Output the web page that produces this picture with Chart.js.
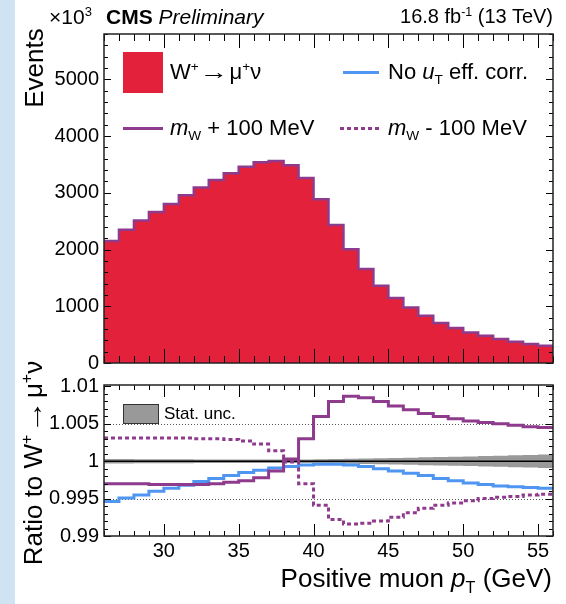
<!DOCTYPE html>
<html><head><meta charset="utf-8">
<script src="https://cdn.jsdelivr.net/npm/chart.js@4/dist/chart.umd.min.js"></script>
<style>
html,body{margin:0;padding:0;background:#fff;}
body{width:566px;height:604px;position:relative;overflow:hidden;font-family:"Liberation Sans",Arial,sans-serif;color:#000;}
#strip{position:absolute;left:0;top:0;width:15px;height:604px;background:#cfe3f3;}
.t{position:absolute;white-space:nowrap;line-height:1;}
.sup{font-size:0.62em;position:relative;top:-0.6em;}
.sub{font-size:0.62em;position:relative;top:0.35em;}
.arr{display:inline-block;transform:scaleX(1.3);margin:0 0.2em;}
canvas{position:absolute;left:0;}
.mk{position:absolute;}
</style></head><body>
<div id="strip"></div>
<canvas id="top" width="566" height="390" style="top:0"></canvas>
<canvas id="bot" width="566" height="244" style="top:360px"></canvas>

<div class="t" style="left:49px;top:6px;font-size:21px;">×10<span class="sup">3</span></div>
<div class="t" style="left:106px;top:6px;font-size:21px;"><b>CMS</b> <i>Preliminary</i></div>
<div class="t" style="right:13px;top:6px;font-size:20px;">16.8 fb<span class="sup">-1</span> (13 TeV)</div>

<div class="mk" style="left:123px;top:52px;width:40px;height:41px;background:#e3213a;"></div>
<div class="t" style="left:170px;top:61px;font-size:22px;">W<span class="sup">+</span><span class="arr">→</span>μ<span class="sup">+</span>ν</div>
<div class="mk" style="left:343px;top:71px;width:36px;height:3px;background:#4f95f2;"></div>
<div class="t" style="left:388px;top:61px;font-size:22px;">No <i>u</i><span class="sub">T</span> eff. corr.</div>
<div class="mk" style="left:123px;top:127px;width:40px;height:3px;background:#8e3b8e;"></div>
<div class="t" style="left:170px;top:117px;font-size:22px;"><i>m</i><span class="sub">W</span> + 100 MeV</div>
<div class="mk" style="left:340px;top:127px;width:39px;height:3px;background:repeating-linear-gradient(90deg,#8e3b8e 0 4px,transparent 4px 7px);"></div>
<div class="t" style="left:388px;top:117px;font-size:22px;"><i>m</i><span class="sub">W</span> - 100 MeV</div>

<div class="mk" style="left:123px;top:404px;width:34px;height:18px;background:#999;border:1px solid #333;"></div>
<div class="t" style="left:164px;top:405px;font-size:17px;">Stat. unc.</div>

<div class="t" style="left:34px;top:68px;font-size:26px;transform:translate(-50%,-50%) rotate(-90deg);">Events</div>
<div class="t" style="left:33px;top:463px;font-size:26px;transform:translate(-50%,-50%) rotate(-90deg);">Ratio to W<span class="sup">+</span><span class="arr">→</span>μ<span class="sup">+</span>ν</div>
<div class="t" style="right:14px;top:565px;font-size:26px;">Positive muon <i>p</i><span class="sub">T</span> (GeV)</div>

<script>
// ---------------- data ----------------
const binEdges = [26,27,28,29,30,31,32,33,34,35,36,37,38,39,40,41,42,43,44,45,46,47,48,49,50,51,52,53,54,55,56];
// W+ -> mu+ nu events per bin (x10^3)
const nominal = [2150,2347,2510,2663,2805,2957,3092,3227,3345,3461,3539,3562,3486,3262,2887,2435,2007,1655,1361,1144,979,833,704,616,539,481,423,375,334,305];
// ratios to nominal
const ratioNoUT = [0.9946,0.9951,0.9955,0.9960,0.9964,0.9968,0.9973,0.9977,0.9981,0.9985,0.9988,0.9991,0.9993,0.9995,0.9996,0.9996,0.9995,0.9993,0.9990,0.9987,0.9984,0.9981,0.9977,0.9974,0.9971,0.9969,0.9967,0.9966,0.9965,0.9964];
const ratioMwUp = [0.9970,0.9970,0.9970,0.9969,0.9969,0.9969,0.9969,0.9970,0.9972,0.9974,0.9978,0.9987,1.0003,1.0030,1.0060,1.0080,1.0087,1.0085,1.0080,1.0074,1.0069,1.0064,1.0060,1.0057,1.0054,1.0052,1.0050,1.0048,1.0046,1.0045];
const ratioMwDown = [1.0031,1.0031,1.0031,1.0031,1.0031,1.0031,1.0030,1.0030,1.0029,1.0027,1.0023,1.0014,0.9999,0.9970,0.9941,0.9922,0.9916,0.9917,0.9920,0.9925,0.9931,0.9937,0.9941,0.9944,0.9947,0.9950,0.9952,0.9953,0.9955,0.9956];
// relative statistical uncertainty per bin
const statUnc = [0.00030,0.00029,0.00028,0.00027,0.00026,0.00026,0.00025,0.00025,0.00024,0.00024,0.00024,0.00024,0.00024,0.00025,0.00027,0.00029,0.00032,0.00036,0.00040,0.00044,0.00048,0.00052,0.00057,0.00061,0.00065,0.00069,0.00074,0.00079,0.00084,0.00090];
// tick labels
const topYTicks = [0,1000,2000,3000,4000,5000];
const topYLabels = ['0','1000','2000','3000','4000','5000'];
const ratioYTicks = [0.99,0.995,1,1.005,1.01];
const ratioYLabels = ['0.99','0.995','1','1.005','1.01'];
const xTicks = [30,35,40,45,50,55];
const xLabels = ['30','35','40','45','50','55'];

// ---------------- helpers ----------------
const RED = '#e3213a', PURPLE = '#8e3b8e', BLUE = '#4f95f2', GREY = '#999999';
const FONT = 'Liberation Sans';
function steps(vals){ return binEdges.map((e,i)=>({x:e, y:vals[Math.min(i, vals.length-1)]})); }

const frameTicks = {
  id:'frameTicks',
  beforeDatasetsDraw(chart, args, o){
    if(!o.grid) return;
    const {ctx, chartArea:a, scales:{y}} = chart;
    ctx.save();
    ctx.strokeStyle='#555'; ctx.lineWidth=1; ctx.setLineDash([1,2]);
    o.grid.forEach(v=>{ const py=Math.round(y.getPixelForValue(v))+0.5; ctx.beginPath(); ctx.moveTo(a.left,py); ctx.lineTo(a.right,py); ctx.stroke(); });
    ctx.restore();
  },
  afterDatasetsDraw(chart, args, o){
    const {ctx, chartArea:a, scales:{x,y}} = chart;
    ctx.save();
    ctx.strokeStyle='#000'; ctx.lineWidth=1;
    const ln=(x1,y1,x2,y2)=>{ctx.beginPath();ctx.moveTo(x1,y1);ctx.lineTo(x2,y2);ctx.stroke();};
    for(let v=26; v<=56; v++){
      const px=Math.round(x.getPixelForValue(v))+0.5;
      const L = v%5===0 ? o.xMajor : o.xMinor;
      ln(px,a.bottom,px,a.bottom-L); ln(px,a.top,px,a.top+L);
    }
    for(let i=0;i<=o.yN;i++){
      const v=o.yMin+i*o.yStep;
      if(v>o.yMax+1e-9) break;
      const py=Math.round(y.getPixelForValue(v))+0.5;
      const L = (i%o.yEvery===0) ? o.yMajor : o.yMinor;
      ln(a.left,py,a.left+L,py); ln(a.right,py,a.right-L,py);
    }
    ctx.lineWidth=1.5; ctx.strokeStyle='#222';
    ctx.strokeRect(a.left,a.top,a.right-a.left,a.bottom-a.top);
    ctx.restore();
  }
};

const tickFont = {family:FONT, size:20};

new Chart(document.getElementById('top'), {
  type:'line',
  data:{datasets:[{
    data:steps(nominal), stepped:true, fill:'origin', backgroundColor:RED,
    borderColor:PURPLE, borderWidth:2.5, pointRadius:0
  }]},
  options:{
    responsive:false, animation:false, devicePixelRatio:1,
    layout:{padding:{left:0,right:13,top:34,bottom:27}},
    plugins:{legend:{display:false}, tooltip:{enabled:false},
      frameTicks:{xMajor:14,xMinor:7,yMin:0,yStep:200,yN:29,yMax:5800,yEvery:5,yMajor:7,yMinor:4}},
    scales:{
      x:{type:'linear', min:26, max:56, display:false},
      y:{type:'linear', min:0, max:5800,
        afterFit(s){s.width=104;},
        afterBuildTicks(s){s.ticks=topYTicks.map(v=>({value:v}));},
        ticks:{font:tickFont, color:'#000', padding:5, callback:(v,i)=>topYLabels[i]},
        grid:{display:false, drawTicks:false}, border:{display:false}}
    }
  },
  plugins:[frameTicks]
});

new Chart(document.getElementById('bot'), {
  type:'line',
  data:{datasets:[
    {data:steps(statUnc.map(u=>1+u)), stepped:true, borderWidth:0, pointRadius:0, fill:false, order:10, borderColor:'rgba(0,0,0,0)'},
    {data:steps(statUnc.map(u=>1-u)), stepped:true, borderWidth:0, pointRadius:0, fill:'-1', backgroundColor:GREY, order:9, borderColor:'rgba(0,0,0,0)'},
    {data:[{x:26,y:1},{x:56,y:1}], borderColor:'#000', borderWidth:1.5, pointRadius:0, order:5},
    {data:steps(ratioNoUT), stepped:true, borderColor:BLUE, borderWidth:3, pointRadius:0, order:3},
    {data:steps(ratioMwUp), stepped:true, borderColor:PURPLE, borderWidth:3, pointRadius:0, order:2},
    {data:steps(ratioMwDown), stepped:true, borderColor:PURPLE, borderWidth:3, borderDash:[4,3], pointRadius:0, order:1}
  ]},
  options:{
    responsive:false, animation:false, devicePixelRatio:1,
    layout:{padding:{left:0,right:13,top:25,bottom:0}},
    plugins:{legend:{display:false}, tooltip:{enabled:false},
      frameTicks:{grid:[0.995,1.005],xMajor:12,xMinor:5,yMin:0.99,yStep:0.001,yN:20,yMax:1.0102,yEvery:5,yMajor:7,yMinor:4}},
    scales:{
      x:{type:'linear', min:26, max:56,
        afterFit(s){s.height=68;},
        afterBuildTicks(s){s.ticks=xTicks.map(v=>({value:v}));},
        ticks:{font:tickFont, color:'#000', padding:3, maxRotation:0, autoSkip:false, callback:(v,i)=>xLabels[i]},
        grid:{display:false, drawTicks:false}, border:{display:false}},
      y:{type:'linear', min:0.99, max:1.0102,
        afterFit(s){s.width=104;},
        afterBuildTicks(s){s.ticks=ratioYTicks.map(v=>({value:v}));},
        ticks:{font:tickFont, color:'#000', padding:5, callback:(v,i)=>ratioYLabels[i]},
        grid:{display:false, drawTicks:false}, border:{display:false}}
    }
  },
  plugins:[frameTicks]
});
</script>
</body></html>
